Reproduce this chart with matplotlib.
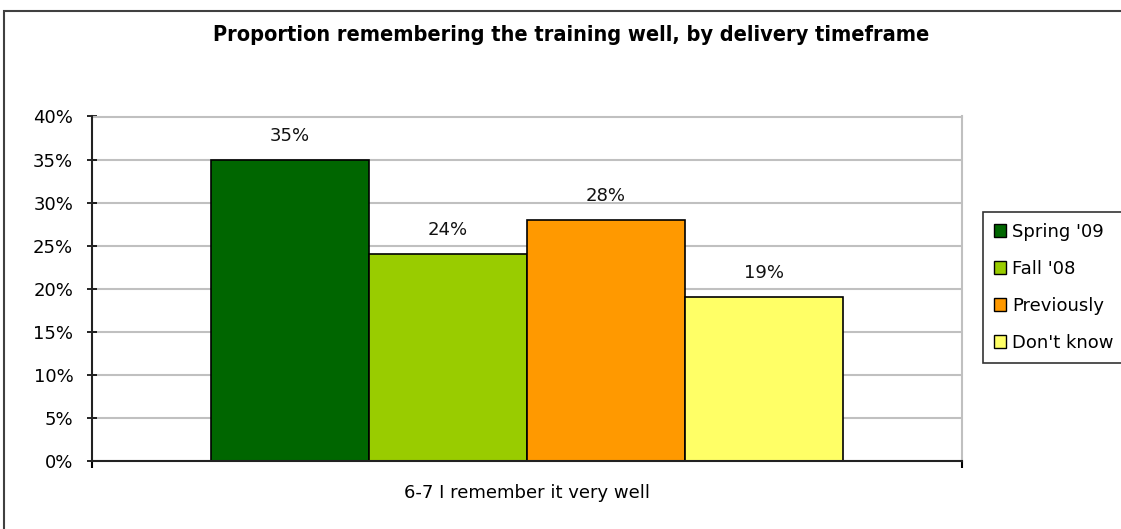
import matplotlib
matplotlib.use("Agg")
import matplotlib.pyplot as plt
from matplotlib.patches import Patch, Rectangle
from matplotlib.ticker import FuncFormatter, FixedLocator

title = "Proportion remembering the training well, by delivery timeframe"
category = "6-7 I remember it very well"
series = ["Spring '09", "Fall '08", "Previously", "Don't know"]
values = [35, 24, 28, 19]
colors = ["#006600", "#99CC00", "#FF9900", "#FFFF66"]
yticks = [0, 5, 10, 15, 20, 25, 30, 35, 40]

W, H = 1121, 529
fig = plt.figure(figsize=(W / 100, H / 100), dpi=100)
plt.rcParams['font.family'] = ['DejaVu Sans']

# outer chart border
fig.patches.append(Rectangle((4 / W, -0.2), 1.3, (H - 11) / H + 0.2,
                             transform=fig.transFigure, fill=False,
                             edgecolor="#404040", linewidth=1.5))

ax = fig.add_axes([92 / W, 1 - 460.7 / H, (962 - 92) / W, (460.7 - 116.5) / H])

w = 1 / 5.5
for i, (s, v, c) in enumerate(zip(series, values, colors)):
    x = (i - 1.5) * w
    ax.bar(x, v, width=w, color=c, edgecolor="black", linewidth=1.2,
           label=s, zorder=3)
    ax.annotate(f"{v}%", (x, v), xytext=(0, 13.5), textcoords="offset points",
                ha="center", va="baseline", fontsize=13, color="#111111")

ax.set_xlim(-0.5, 0.5)
ax.set_ylim(0, 40)
ax.set_yticks(yticks)
ax.yaxis.set_major_formatter(FuncFormatter(lambda v, p: f"{int(v)}%"))
ax.tick_params(axis="y", direction="inout", length=7, width=1.2,
               pad=10, labelsize=13, colors="black")
ax.set_xticks([0])
ax.set_xticklabels([category], fontsize=13)
ax.tick_params(axis="x", which="major", length=0, pad=17)
ax.xaxis.set_minor_locator(FixedLocator([-0.5, 0.5]))
ax.tick_params(axis="x", which="minor", direction="out", length=5, width=1.5)

ax.grid(axis="y", color="#c0c0c0", linewidth=1.5, zorder=0)
for side in ["top", "right"]:
    ax.spines[side].set_color("#c0c0c0")
    ax.spines[side].set_linewidth(1.5)
for side in ["left", "bottom"]:
    ax.spines[side].set_color("#222222")
    ax.spines[side].set_linewidth(1.5)
ax.spines["left"].set_zorder(4)
ax.spines["bottom"].set_zorder(4)

fig.text(571 / W, 1 - 35 / H, title, ha="center", va="center",
         fontsize=15.6, fontweight="bold", fontstretch="condensed")

leg = fig.legend(handles=[Patch(facecolor=c, edgecolor="black", linewidth=1.0, label=s)
                          for s, c in zip(series, colors)],
                 loc="upper left", bbox_to_anchor=(983 / W, 1 - 212 / H),
                 fontsize=13, frameon=True, fancybox=False, shadow=False,
                 handlelength=0.7, handleheight=0.7, handletextpad=0.3,
                 labelspacing=1.05, borderpad=0.6, borderaxespad=0)
leg.get_frame().set_edgecolor("black")
leg.get_frame().set_linewidth(1.2)

fig.savefig("out.png", dpi=100)
